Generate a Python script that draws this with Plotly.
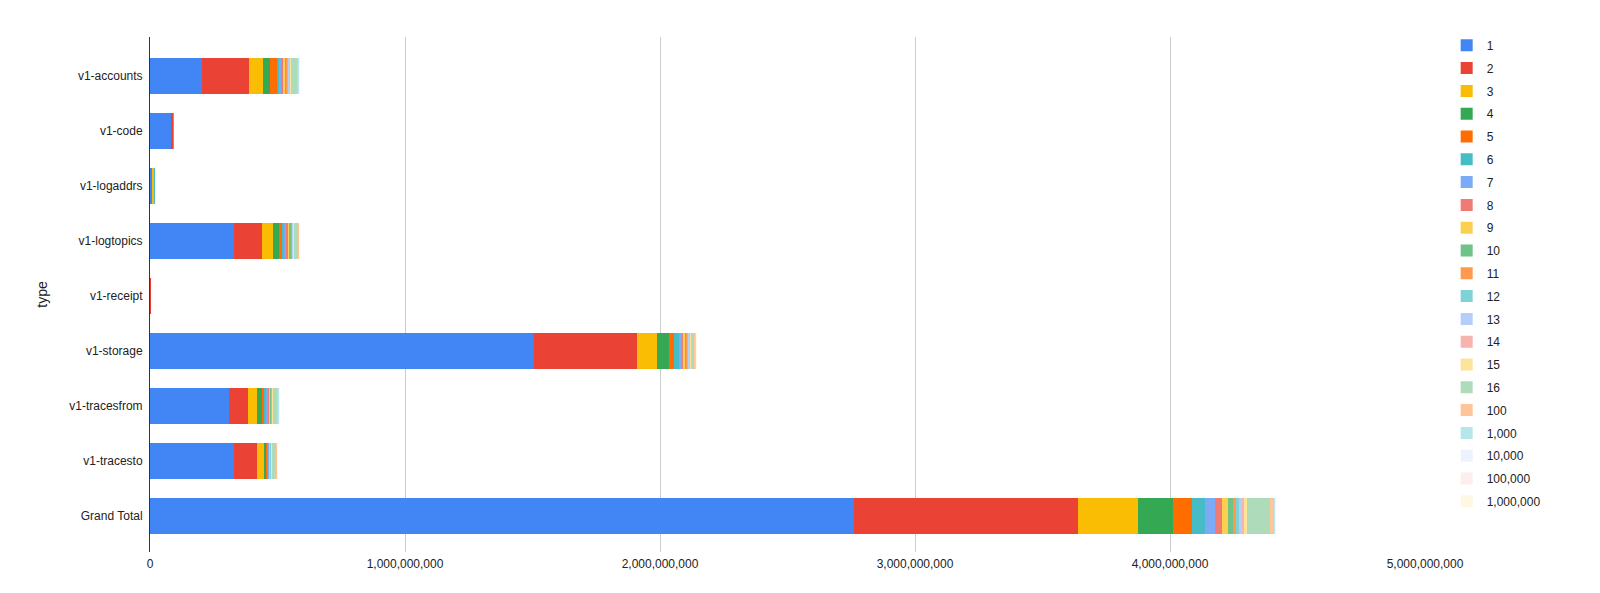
import plotly.graph_objects as go

# categories, top to bottom
types = ['v1-accounts', 'v1-code', 'v1-logaddrs', 'v1-logtopics', 'v1-receipt',
         'v1-storage', 'v1-tracesfrom', 'v1-tracesto', 'Grand Total']

# series (legend) names
series_names = ['1', '2', '3', '4', '5', '6', '7', '8', '9', '10', '11', '12', '13',
                '14', '15', '16', '100', '1,000', '10,000', '100,000', '1,000,000']

series_colors = ['#4285F4', '#EA4335', '#FBBC04', '#34A853', '#FF6D01', '#46BDC6',
                 '#7BAAF7', '#F07B72', '#FCD04F', '#71C287', '#FF994D', '#7ED1D7',
                 '#B3CEFB', '#F7B4AE', '#FDE49B', '#AEDCBA', '#FFC599', '#B5E7EA',
                 '#ECF2FE', '#FDEDEC', '#FEF7E1']

# one value per series, in the same order as series_names
accounts = [204e6, 183e6, 55e6, 30e6, 25e6, 9e6, 8e6, 9e6, 7e6, 6e6, 5e6, 4e6, 3e6,
            3e6, 3e6, 26e6, 4e6, 1e6, 0.5e6, 0.2e6, 0.1e6]
code = [86e6, 7e6, 0.5e6, 0.3e6, 0.2e6, 0.1e6, 0, 0, 0, 0, 0, 0, 0,
        0, 0, 0, 0, 0, 0, 0, 0]
logaddrs = [8e6, 1e6, 7e6, 0.5e6, 0.2e6, 0.1e6, 0, 0, 0, 0, 0, 0, 0,
            0, 0, 0, 0, 0, 0, 0, 0]
logtopics = [328e6, 111e6, 42e6, 25e6, 10e6, 12e6, 7e6, 8e6, 5e6, 7e6, 3e6, 2e6, 2e6,
             2e6, 2e6, 15e6, 4e6, 1e6, 0.5e6, 0.2e6, 0.1e6]
receipt = [0.4e6, 0.1e6, 0, 0, 0, 0, 0, 0, 0, 0, 0, 0, 0,
           0, 0, 0, 0, 0, 0, 0, 0]
storage = [1504e6, 406e6, 78e6, 46e6, 20e6, 22e6, 9e6, 9e6, 5e6, 6e6, 4e6, 4e6, 3e6,
           3e6, 3e6, 13e6, 6e6, 2e6, 1e6, 0.5e6, 0.2e6]
tracesfrom = [311e6, 72e6, 37e6, 18e6, 8e6, 10e6, 7e6, 4e6, 4e6, 4e6, 2e6, 2e6, 1e6,
              1e6, 1e6, 18e6, 5e6, 1e6, 0.5e6, 0.2e6, 0.1e6]
tracesto = [331e6, 87e6, 30e6, 10e6, 4e6, 3e6, 3e6, 2e6, 2e6, 1e6, 1e6, 1e6, 1e6,
            1e6, 1e6, 19e6, 3e6, 1e6, 0.5e6, 0.2e6, 0.1e6]
grand_total = [2761e6, 880e6, 233e6, 136e6, 76e6, 51e6, 39e6, 27e6, 24e6, 20e6, 12e6,
               10e6, 12e6, 8e6, 11e6, 94e6, 14e6, 4e6, 2e6, 1e6, 0.5e6]

rows = [accounts, code, logaddrs, logtopics, receipt, storage, tracesfrom, tracesto, grand_total]

fig = go.Figure()

# one stacked trace per series
for i, name in enumerate(series_names):
    fig.add_trace(go.Bar(
        y=types,
        x=[row[i] for row in rows],
        name=name,
        orientation='h',
        legendgroup=name,
        marker=dict(color=series_colors[i], line=dict(width=0)),
    ))

fig.update_layout(
    barmode='stack',
    bargap=0.35,
    width=1600,
    height=593,
    margin=dict(l=142, r=183, t=29, b=49),
    plot_bgcolor='white',
    paper_bgcolor='white',
    font=dict(family='Arial, Liberation Sans, sans-serif', size=12, color='#222222'),
    legend=dict(
        x=1.017, xanchor='left', y=1.012, yanchor='top',
        maxheight=570,
        traceorder='grouped', tracegroupgap=3.8,
        font=dict(size=12, color='#222222'),
    ),
    xaxis=dict(
        range=[0, 5e9],
        dtick=1e9,
        tickformat=',',
        showgrid=True,
        gridcolor='#cccccc',
        zeroline=False,
        showline=False,
        ticks='',
        ticklabelstandoff=3,
    ),
    yaxis=dict(
        type='category',
        range=[8.655, -0.71],
        title=dict(text='type', standoff=18),
        showline=True,
        linecolor='#333333',
        linewidth=1,
        showgrid=False,
        ticks='',
        ticklabelstandoff=4,
    ),
)

fig.write_html("out.html")
